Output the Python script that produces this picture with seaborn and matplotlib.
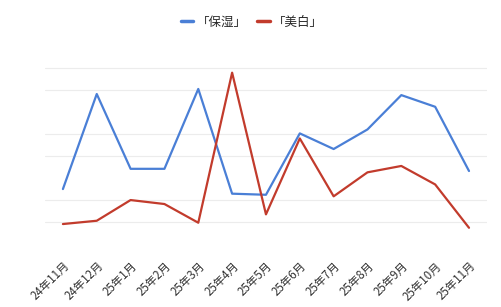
import matplotlib
matplotlib.use("Agg")
import matplotlib.pyplot as plt
import seaborn as sns
import pandas as pd

months = ["24年11月", "24年12月", "25年1月", "25年2月", "25年3月", "25年4月", "25年5月",
          "25年6月", "25年7月", "25年8月", "25年9月", "25年10月", "25年11月"]
hoshitsu = [1.50, 5.82, 2.42, 2.42, 6.05, 1.29, 1.24, 4.03, 3.32, 4.21, 5.77, 5.24, 2.32]
bihaku = [-0.09, 0.06, 1.00, 0.82, -0.03, 6.79, 0.35, 3.80, 1.17, 2.26, 2.55, 1.71, -0.26]
series_names = ["「保湿」", "「美白」"]
colors = ["#4a7fd6", "#c23b2c"]
grid_vals = [0, 1, 3, 4, 6, 7]

df = pd.DataFrame({
    "idx": list(range(len(months))) * 2,
    "value": hoshitsu + bihaku,
    "series": [series_names[0]] * len(months) + [series_names[1]] * len(months),
})

sns.set_theme(style="white")
plt.rcParams['font.family'] = ['Noto Sans CJK JP', 'DejaVu Sans']

fig = plt.figure(figsize=(5.02, 3.07), dpi=100)
ax = fig.add_axes([0.0896, 0.205, 0.8804, 0.645])

sns.lineplot(data=df, x="idx", y="value", hue="series", palette=colors,
             linewidth=1.6, ax=ax, legend=False)

ax.set_xlim(-0.53, 12.53)
ax.set_ylim(-1, 8)
ax.set_yticks(grid_vals)
ax.yaxis.grid(True, color="#ececec", linewidth=0.8)
ax.set_axisbelow(True)
ax.tick_params(axis="y", left=False, labelleft=False)
ax.set_xticks(range(len(months)))
ax.set_xticklabels(months, rotation=45, ha="right", rotation_mode="anchor",
                   fontsize=8.3, color="#333333")
ax.tick_params(axis="x", bottom=False, pad=5)
for lbl in ax.get_xticklabels():
    lbl.set_x(lbl.get_position()[0])
for s in ax.spines.values():
    s.set_visible(False)
ax.set_xlabel("")
ax.set_ylabel("")

from matplotlib.lines import Line2D
handles = [Line2D([0], [0], color=c, linewidth=2.5) for c in colors]
fig.legend(handles, series_names, loc="center", bbox_to_anchor=(0.502, 0.928),
           ncol=2, frameon=False, fontsize=9, handlelength=1.0, handletextpad=0.3,
           columnspacing=0.8)

fig.savefig("out.png", dpi=100)
